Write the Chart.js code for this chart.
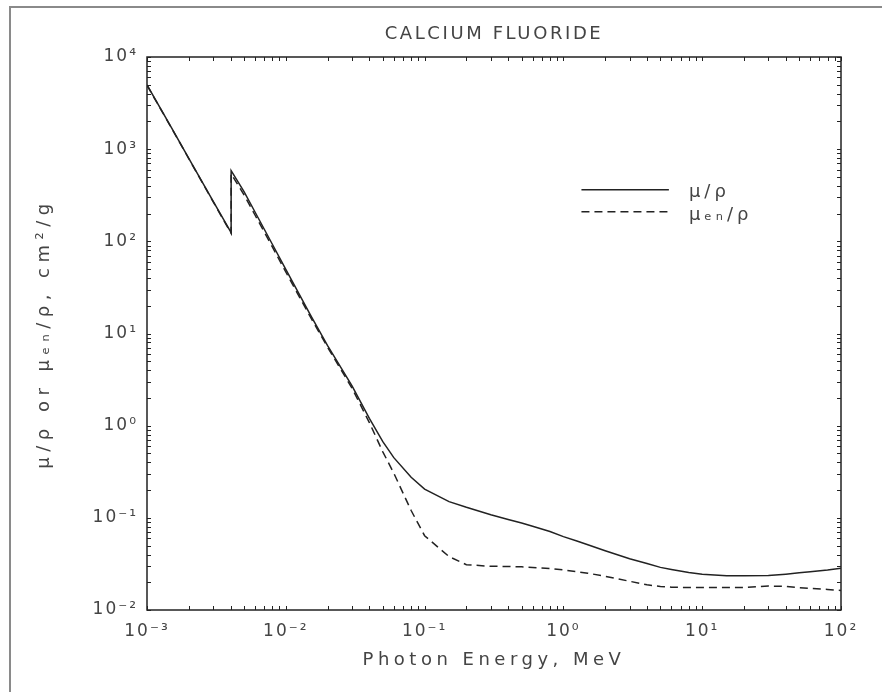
<!DOCTYPE html>
<html>
<head>
<meta charset="utf-8">
<script src="https://cdn.jsdelivr.net/npm/chart.js@4"></script>
<style>
  html, body { margin: 0; padding: 0; background: #fff; }
  #wrap { position: relative; width: 882px; height: 692px; }
</style>
</head>
<body>
<div id="wrap"><canvas id="chart"></canvas></div>
<script>
// photon energy, MeV (Ca K edge at 4.038 keV listed twice)
var energy = [1.0e-3, 1.5e-3, 2.0e-3, 3.0e-3, 4.038e-3, 4.038e-3, 5.0e-3, 6.0e-3, 8.0e-3,
    1.0e-2, 1.5e-2, 2.0e-2, 3.0e-2, 4.0e-2, 5.0e-2, 6.0e-2, 8.0e-2,
    0.1, 0.15, 0.2, 0.3, 0.4, 0.5, 0.6, 0.8,
    1.0, 1.25, 1.5, 2.0, 3.0, 4.0, 5.0, 6.0, 8.0,
    10, 15, 20, 30, 40, 50, 60, 80, 100];

// mu/rho, cm2/g
var muRho = [4970, 1710, 796, 271, 124, 585, 347, 208, 93,
    49.6, 16.0, 7.4, 2.7, 1.2, 0.67, 0.45, 0.275,
    0.205, 0.15, 0.13, 0.108, 0.096, 0.088, 0.081, 0.071,
    0.0625, 0.056, 0.051, 0.044, 0.036, 0.032, 0.029, 0.0275, 0.0255,
    0.0245, 0.0236, 0.0235, 0.0237, 0.0245, 0.0253, 0.026, 0.0272, 0.0284];

// mu_en/rho, cm2/g
var muEnRho = [4940, 1700, 790, 268, 122, 540, 320, 193, 87,
    46.5, 15.2, 7.1, 2.55, 1.08, 0.52, 0.305, 0.12,
    0.064, 0.038, 0.031, 0.0298, 0.0297, 0.0294, 0.029, 0.0282,
    0.0272, 0.026, 0.0251, 0.0232, 0.0205, 0.0188, 0.018, 0.0177, 0.0175,
    0.0175, 0.0175, 0.0176, 0.0182, 0.018, 0.0175, 0.0172, 0.0167, 0.0163];

var seriesNames = ['\u03bc/\u03c1', '\u03bc\u2091\u2099/\u03c1'];

var xTicks = [1e-3, 1e-2, 1e-1, 1, 10, 100];
var xTickLabels = ['10\u207b\u00b3', '10\u207b\u00b2', '10\u207b\u00b9', '10\u2070', '10\u00b9', '10\u00b2'];
var yTicks = [1e-2, 1e-1, 1, 10, 100, 1000, 10000];
var yTickLabels = ['10\u207b\u00b2', '10\u207b\u00b9', '10\u2070', '10\u00b9', '10\u00b2', '10\u00b3', '10\u2074'];

var ink = '#222';
var textInk = '#444';
var family = "'DejaVu Sans', sans-serif";

function points(ys) {
    return energy.map(function(e, i) { return {x: e, y: ys[i]}; });
}

// minor log ticks between min and max
function logTicks(min, max) {
    var out = [];
    for (var p = Math.floor(Math.log10(min)); p <= Math.ceil(Math.log10(max)); p++) {
        for (var d = 1; d < 10; d++) {
            var v = d * Math.pow(10, p);
            if (v >= min * 0.999 && v <= max * 1.001) out.push(v);
        }
    }
    return out;
}

// wrap a draw method so its text comes out with wide letter spacing
function spaced(obj, name, px) {
    if (!obj || obj['_plain_' + name]) return;
    var orig = obj[name];
    obj['_plain_' + name] = orig;
    obj[name] = function() {
        var c = this.ctx;
        var old = c.letterSpacing;
        c.letterSpacing = px;
        orig.apply(this, arguments);
        c.letterSpacing = old;
    };
}

var spacing = {
    id: 'spacing',
    beforeDraw: function(chart) {
        spaced(chart.titleBlock, 'draw', '2.6px');
        spaced(chart.scales.x, 'drawLabels', '2px');
        spaced(chart.scales.y, 'drawLabels', '2px');
        spaced(chart.scales.x, 'drawTitle', '4.5px');
        spaced(chart.scales.y, 'drawTitle', '5.5px');
    }
};

// page frame, plot box and inward ticks on all four sides
var frame = {
    id: 'frame',
    beforeDraw: function(chart) {
        var ctx = chart.ctx;
        ctx.save();
        ctx.strokeStyle = '#8a8a8a';
        ctx.lineWidth = 2;
        ctx.beginPath();
        ctx.moveTo(10, chart.height);
        ctx.lineTo(10, 7);
        ctx.lineTo(chart.width, 7);
        ctx.stroke();
        ctx.restore();
    },
    afterDatasetsDraw: function(chart) {
        var ctx = chart.ctx, a = chart.chartArea;
        var xs = chart.scales.x, ys = chart.scales.y;
        ctx.save();
        ctx.strokeStyle = ink;
        ctx.lineWidth = 1.5;
        ctx.strokeRect(a.left, a.top, a.right - a.left, a.bottom - a.top);
        ctx.lineWidth = 1;
        ctx.beginPath();
        logTicks(xs.min, xs.max).forEach(function(v) {
            var px = Math.round(xs.getPixelForValue(v)) + 0.5;
            ctx.moveTo(px, a.bottom); ctx.lineTo(px, a.bottom - 4);
            ctx.moveTo(px, a.top); ctx.lineTo(px, a.top + 4);
        });
        logTicks(ys.min, ys.max).forEach(function(v) {
            var py = Math.round(ys.getPixelForValue(v)) + 0.5;
            ctx.moveTo(a.left, py); ctx.lineTo(a.left + 4, py);
            ctx.moveTo(a.right, py); ctx.lineTo(a.right - 4, py);
        });
        ctx.stroke();
        ctx.restore();
    },
    afterDraw: function(chart) {
        // legend in the upper right of the plot
        var ctx = chart.ctx, a = chart.chartArea;
        var w = a.right - a.left, h = a.bottom - a.top;
        var x0 = a.left + w * 0.626, x1 = a.left + w * 0.752;
        ctx.save();
        ctx.letterSpacing = '4px';
        ctx.font = '18px ' + family;
        ctx.fillStyle = textInk;
        ctx.textBaseline = 'middle';
        chart.data.datasets.forEach(function(ds, i) {
            var y = a.top + h * (0.240 + i * 0.04);
            ctx.strokeStyle = ds.borderColor;
            ctx.lineWidth = ds.borderWidth;
            ctx.setLineDash(ds.borderDash || []);
            ctx.beginPath();
            ctx.moveTo(x0, y);
            ctx.lineTo(x1, y);
            ctx.stroke();
            ctx.fillText(ds.label, x1 + 20, y + 3);
        });
        ctx.restore();
    }
};

var ctx = document.getElementById('chart');

var chart = new Chart(ctx, {
    type: 'line',
    data: {
        datasets: [{
            label: seriesNames[0],
            data: points(muRho),
            borderColor: ink,
            borderWidth: 1.5,
            pointRadius: 0,
            fill: false,
            tension: 0
        }, {
            label: seriesNames[1],
            data: points(muEnRho),
            borderColor: ink,
            borderWidth: 1.5,
            borderDash: [8, 5],
            pointRadius: 0,
            fill: false,
            tension: 0
        }]
    },
    options: {
        responsive: true,
        maintainAspectRatio: false,
        animation: false,
        layout: { padding: { left: 0, top: 0, right: 41, bottom: 0 } },
        plugins: {
            legend: { display: false },
            tooltip: { enabled: false },
            title: {
                display: true,
                fullSize: false,
                text: 'CALCIUM FLUORIDE',
                color: textInk,
                font: { family: family, size: 18, weight: 'normal' },
                padding: { top: 24, bottom: 11.4 }
            }
        },
        scales: {
            x: {
                type: 'logarithmic',
                min: 1e-3,
                max: 100,
                afterBuildTicks: function(s) { s.ticks = xTicks.map(function(v) { return {value: v}; }); },
                afterFit: function(s) { s.height = 82; },
                grid: { display: false, drawTicks: false },
                border: { display: false },
                ticks: {
                    autoSkip: false,
                    maxRotation: 0,
                    padding: 11,
                    color: textInk,
                    font: { family: family, size: 17 },
                    callback: function(v) { return xTickLabels[xTicks.indexOf(v)]; }
                },
                title: {
                    display: true,
                    text: 'Photon Energy, MeV',
                    color: textInk,
                    font: { family: family, size: 18 },
                    padding: { top: 0, bottom: 21 }
                }
            },
            y: {
                type: 'logarithmic',
                min: 1e-2,
                max: 1e4,
                afterBuildTicks: function(s) { s.ticks = yTicks.map(function(v) { return {value: v}; }); },
                afterFit: function(s) { s.width = 147; },
                grid: { display: false, drawTicks: false },
                border: { display: false },
                ticks: {
                    autoSkip: false,
                    padding: 9,
                    color: textInk,
                    font: { family: family, size: 17 },
                    callback: function(v) { return yTickLabels[yTicks.indexOf(v)]; }
                },
                title: {
                    display: true,
                    text: '\u03bc/\u03c1 or \u03bc\u2091\u2099/\u03c1, cm\u00b2/g',
                    color: textInk,
                    font: { family: family, size: 18 },
                    padding: { top: 34, bottom: 0 }
                }
            }
        }
    },
    plugins: [spacing, frame]
});
</script>
</body>
</html>
